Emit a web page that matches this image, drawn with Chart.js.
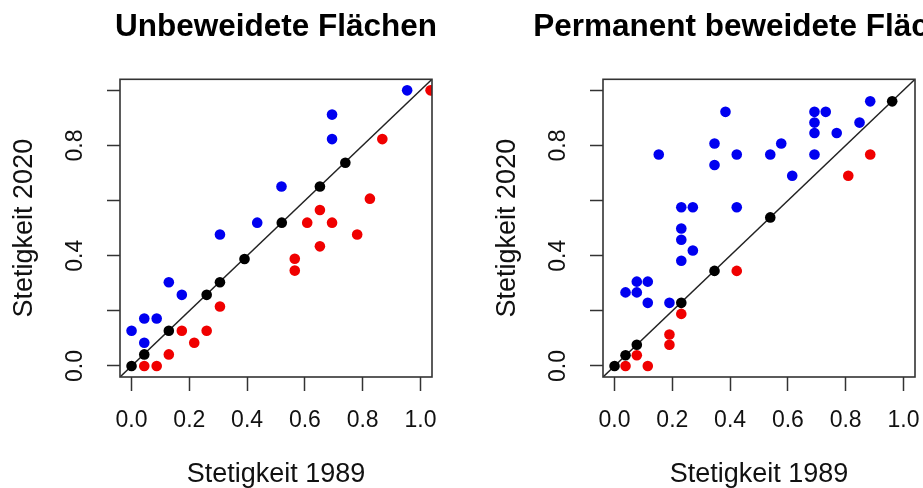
<!DOCTYPE html>
<html>
<head>
<meta charset="utf-8">
<script src="https://cdn.jsdelivr.net/npm/chart.js@4.4.1/dist/chart.umd.min.js"></script>
<style>
  html, body { margin: 0; padding: 0; background: #fff; overflow: hidden; width: 923px; height: 488px; }
  canvas { position: absolute; top: 0; }
</style>
</head>
<body>
<canvas id="chartLeft" width="552" height="488" style="left:0px"></canvas>
<canvas id="chartRight" width="552" height="488" style="left:483px"></canvas>
<script>
// Unbeweidete Flächen
const leftTitle = 'Unbeweidete Flächen';
const leftBlueX = [0.000, 0.044, 0.044, 0.087, 0.129, 0.174, 0.306, 0.435, 0.519, 0.694, 0.694, 0.954];
const leftBlueY = [0.128, 0.084, 0.172, 0.172, 0.304, 0.258, 0.477, 0.520, 0.651, 0.823, 0.912, 1.000];
const leftBlackX = [0.000, 0.044, 0.129, 0.260, 0.306, 0.391, 0.520, 0.652, 0.740];
const leftBlackY = [0.000, 0.042, 0.128, 0.258, 0.304, 0.388, 0.520, 0.651, 0.737];
const leftRedX = [0.044, 0.087, 0.129, 0.174, 0.217, 0.260, 0.306, 0.565, 0.565, 0.608, 0.652, 0.652, 0.694, 0.781, 0.825, 0.868, 1.035];
const leftRedY = [0.000, 0.000, 0.042, 0.128, 0.084, 0.128, 0.216, 0.346, 0.389, 0.520, 0.434, 0.566, 0.520, 0.477, 0.607, 0.823, 1.000];

// Permanent beweidete Flächen
const rightTitle = 'Permanent beweidete Flächen';
const rightBlueX = [0.038, 0.077, 0.077, 0.115, 0.115, 0.190, 0.231, 0.231, 0.231, 0.231, 0.271, 0.271, 0.153, 0.346, 0.346,
                    0.384, 0.423, 0.423, 0.539, 0.577, 0.615, 0.692, 0.692, 0.692, 0.692, 0.731, 0.769, 0.848, 0.885];
const rightBlueY = [0.267, 0.267, 0.306, 0.306, 0.229, 0.229, 0.382, 0.458, 0.499, 0.576, 0.419, 0.576, 0.767, 0.729, 0.807,
                    0.922, 0.576, 0.767, 0.767, 0.807, 0.690, 0.767, 0.845, 0.883, 0.922, 0.922, 0.845, 0.883, 0.960];
const rightBlackX = [0.000, 0.038, 0.077, 0.231, 0.346, 0.539, 0.961];
const rightBlackY = [0.000, 0.039, 0.077, 0.229, 0.345, 0.539, 0.960];
const rightRedX = [0.038, 0.115, 0.077, 0.190, 0.190, 0.231, 0.423, 0.809, 0.885];
const rightRedY = [0.000, 0.000, 0.039, 0.077, 0.114, 0.189, 0.345, 0.690, 0.767];

const xAxisTitle = 'Stetigkeit 1989';
const yAxisTitle = 'Stetigkeit 2020';
const axisMin = -0.04;
const axisMax = 1.04;
const yLabelTicks = ['0.0', '0.4', '0.8'];

const FONT = "'Liberation Sans', Arial, sans-serif";

const toPoints = (xs, ys) => xs.map((x, i) => ({x: x, y: ys[i]}));

// box around the plot region, like R's box()
const boxPlugin = {
    id: 'plotBox',
    afterDatasetsDraw(chart) {
        const {ctx, chartArea} = chart;
        ctx.save();
        ctx.strokeStyle = '#333';
        ctx.lineWidth = 1.6;
        ctx.strokeRect(chartArea.left, chartArea.top, chartArea.right - chartArea.left, chartArea.bottom - chartArea.top);
        ctx.restore();
    }
};

function makeChart(id, title, blackPts, redPts, bluePts) {
    const pointDs = (data, color) => ({
        type: 'scatter',
        data: data,
        backgroundColor: color,
        borderWidth: 0,
        pointRadius: 5.3,
        pointHoverRadius: 5.3,
        clip: 0
    });
    const ctx = document.getElementById(id).getContext('2d');
    new Chart(ctx, {
        type: 'scatter',
        data: {
            datasets: [
                pointDs(blackPts, '#000000'),
                pointDs(redPts, '#f00000'),
                pointDs(bluePts, '#0000f0'),
                {
                    type: 'scatter',
                    showLine: true,
                    data: [{x: axisMin, y: axisMin}, {x: axisMax, y: axisMax}],
                    borderColor: '#222',
                    borderWidth: 1.5,
                    pointRadius: 0,
                    clip: 0
                }
            ]
        },
        options: {
            responsive: false,
            animation: false,
            events: [],
            layout: { padding: 0 },
            plugins: {
                legend: { display: false },
                tooltip: { enabled: false },
                title: {
                    display: true,
                    text: title,
                    color: '#000',
                    font: { family: FONT, size: 31.5, weight: 'bold', lineHeight: 1 },
                    padding: { top: 12, bottom: 35.8 }
                }
            },
            scales: {
                x: {
                    type: 'linear',
                    position: 'bottom',
                    min: axisMin,
                    max: axisMax,
                    afterFit: s => { s.height = 111; },
                    border: { display: false },
                    grid: { drawOnChartArea: false, drawTicks: true, tickLength: 14, tickColor: '#333', tickWidth: 1.5 },
                    ticks: {
                        stepSize: 0.2,
                        includeBounds: false,
                        autoSkip: false,
                        maxRotation: 0,
                        padding: 16,
                        color: '#111',
                        font: { family: FONT, size: 23 },
                        callback: v => v.toFixed(1)
                    },
                    title: {
                        display: true,
                        text: xAxisTitle,
                        color: '#111',
                        font: { family: FONT, size: 27, lineHeight: 1 },
                        padding: { top: 0, bottom: 0 }
                    }
                },
                y: {
                    type: 'linear',
                    position: 'left',
                    min: axisMin,
                    max: axisMax,
                    afterFit: s => { s.width = 120; },
                    border: { display: false },
                    grid: { drawOnChartArea: false, drawTicks: true, tickLength: 13, tickColor: '#333', tickWidth: 1.5 },
                    ticks: {
                        stepSize: 0.2,
                        includeBounds: false,
                        autoSkip: false,
                        minRotation: 90,
                        maxRotation: 90,
                        crossAlign: 'center',
                        padding: 15,
                        color: '#111',
                        font: { family: FONT, size: 23 },
                        callback: v => yLabelTicks.includes(v.toFixed(1)) ? v.toFixed(1) : ''
                    },
                    title: {
                        display: true,
                        text: yAxisTitle,
                        color: '#111',
                        font: { family: FONT, size: 27, lineHeight: 1 },
                        padding: { top: 11.5, bottom: 0 }
                    }
                },
                // empty axis on the right so the title centres over the plot box
                y2: {
                    type: 'linear',
                    position: 'right',
                    afterFit: s => { s.width = 120; },
                    border: { display: false },
                    grid: { display: false, drawTicks: false },
                    ticks: { display: false }
                }
            }
        },
        plugins: [boxPlugin]
    });
}

makeChart('chartLeft', leftTitle,
    toPoints(leftBlackX, leftBlackY), toPoints(leftRedX, leftRedY), toPoints(leftBlueX, leftBlueY));
makeChart('chartRight', rightTitle,
    toPoints(rightBlackX, rightBlackY), toPoints(rightRedX, rightRedY), toPoints(rightBlueX, rightBlueY));
</script>
</body>
</html>
